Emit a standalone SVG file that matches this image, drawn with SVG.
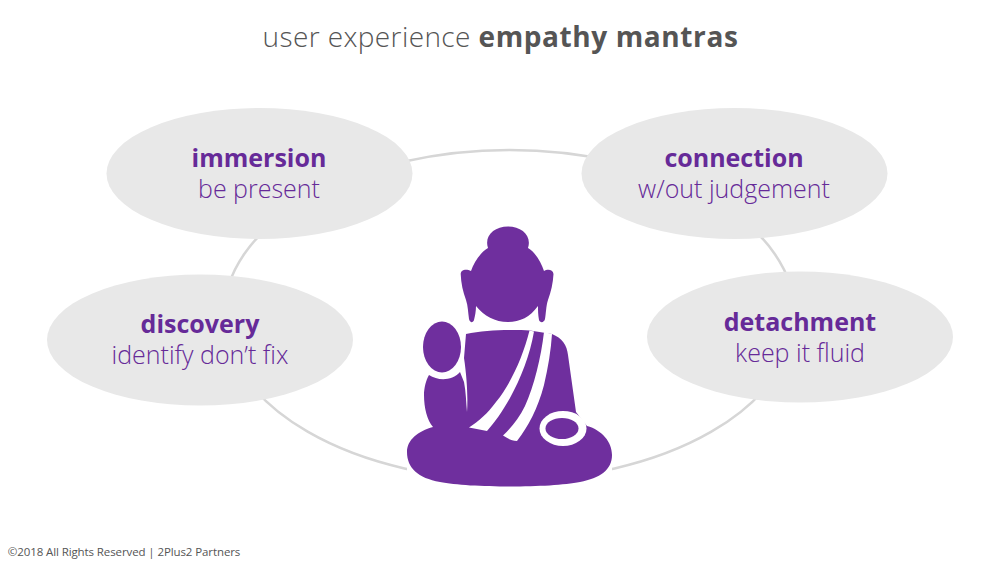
<svg xmlns="http://www.w3.org/2000/svg" width="1000" height="563" viewBox="0 0 1000 563">
<style>
text{font-family:"Open Sans","Noto Sans",sans-serif;text-anchor:middle}
.oval{fill:#e8e8e8}
.h{font-size:25px;font-weight:700;fill:#662a98}
.s{font-size:25px;font-weight:300;fill:#662a98}
.b{fill:#6f2f9e}
.w{fill:#fff}
</style>
<rect width="1000" height="563" fill="#fff"/>
<text x="500.500" y="47" font-size="28" font-weight="300" fill="#555" letter-spacing=".4">user experience <tspan font-weight="700" letter-spacing=".6">empathy mantras</tspan></text>
<g id="connectors"><ellipse cx="509.500" cy="315" rx="285.500" ry="165" fill="none" stroke="#d6d6d6" stroke-width="2.500"/></g>
<g id="immersion"><ellipse class="oval" cx="259.500" cy="173.500" rx="153" ry="65.500"/><text class="h" x="259" y="167">immersion</text><text class="s" x="259" y="198">be present</text></g>
<g id="connection"><ellipse class="oval" cx="734.500" cy="173.500" rx="153" ry="65.500"/><text class="h" x="734" y="167">connection</text><text class="s" x="734" y="198">w/out judgement</text></g>
<g id="discovery"><ellipse class="oval" cx="200" cy="340" rx="153" ry="65.500"/><text class="h" x="200" y="333">discovery</text><text class="s" x="200" y="364">identify don’t fix</text></g>
<g id="detachment"><ellipse class="oval" cx="800" cy="337" rx="153" ry="65.500"/><text class="h" x="800" y="331">detachment</text><text class="s" x="800" y="362">keep it fluid</text></g>
<g id="buddha">
<rect class="w" x="407" y="440" width="205" height="50"/>
<path class="b" d="M488 248C484 236 494 226.500 508 226.500C522 226.500 532 236 528 248C535 252 541 262 544 271C547 269 553 269 553.500 274C553 283 551 292 548 300C546 306 546 314 545 319C544 323 540 323 539 320C538 315 538 310 538 306C530 317 520 322 508 322C495 322 484 316 476 306C476 311 475 316 474 320C473 323 470 323 469 319C468 312 468 306 466 300C463 292 461 283 460.700 274C461 269 467 269 471 271C474 262 481 252 488 248Z"/>
<path class="b" d="M466 334C485 330 510 329.500 530 330.500L552 334C562 338 567 345 568 355L576 412L587 426C602 430 612 442 612 455C612 470 600 478 580 482C550 488 470 488 440 482C418 478 407 468 407 452C407 440 418 431 433 427C427 420 424 408 424 395C424 388 426 380 429 375C438 381 452 381 460 372L464 382C466 392 466 402 467 412C468 398 467 378 464 358Z"/>
<path class="w" d="M529.500 330.500L534 331.500C530 355 521 378 510 398C502 412 495 422 487 431L469 427.500C479 421 487 414 496 402C512 382 523 356 529.500 330.500Z"/>
<path class="w" d="M544 332L552 334C551 350 548 368 544 385C538 408 528 427 517 441C511 441 507 438 503 435.500C512 427 519 418 525 406C534 386 541 358 544 332Z"/>
<ellipse class="b" cx="442" cy="347" rx="19" ry="25.500"/>
<ellipse class="w" cx="563" cy="428.500" rx="23.500" ry="17.500"/>
<ellipse class="b" cx="562" cy="428.500" rx="16.500" ry="10.500"/>
</g>
<text x="124" y="556" font-size="11.500" fill="#555" style="letter-spacing:-.1px">©2018 All Rights Reserved | 2Plus2 Partners</text>
</svg>
